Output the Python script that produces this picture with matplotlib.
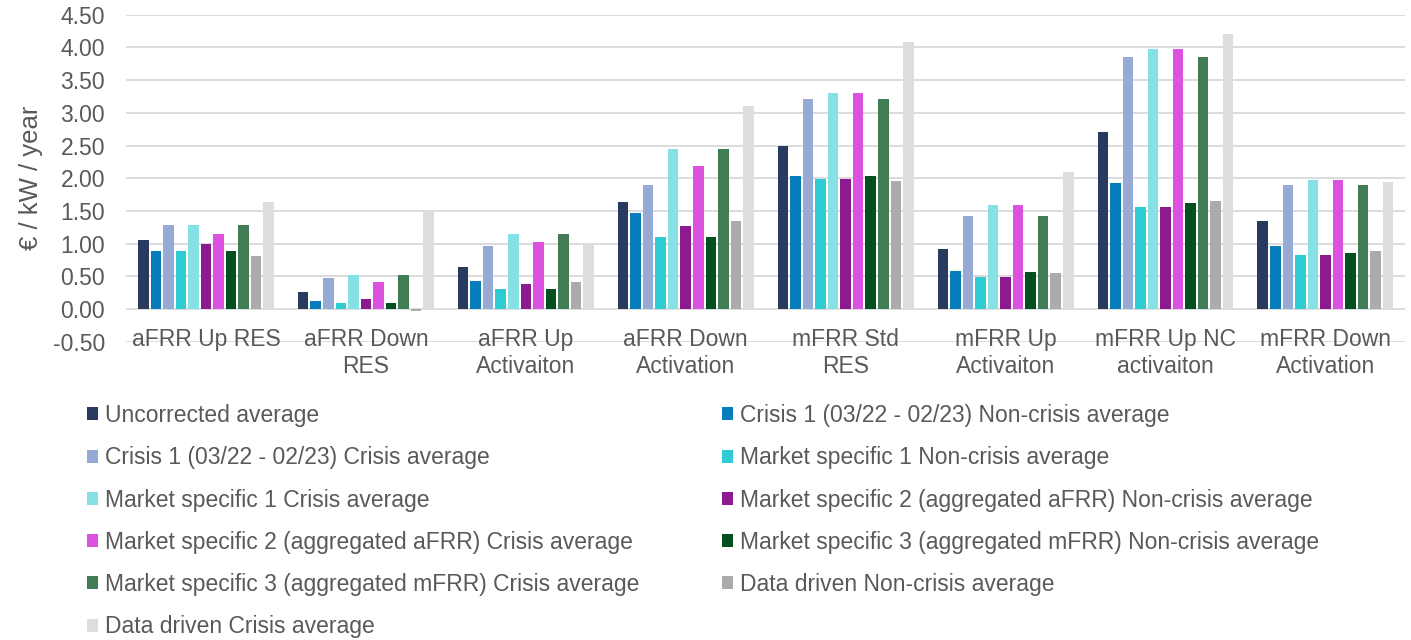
import matplotlib.pyplot as plt
import numpy as np

plt.rcParams['font.family'] = ['Liberation Sans', 'DejaVu Sans']

categories = ['aFRR Up RES', 'aFRR Down\nRES', 'aFRR Up\nActivaiton', 'aFRR Down\nActivation',
              'mFRR Std\nRES', 'mFRR Up\nActivaiton', 'mFRR Up NC\nactivaiton', 'mFRR Down\nActivation']

series_names = [
    'Uncorrected average',
    'Crisis 1 (03/22 - 02/23) Non-crisis average',
    'Crisis 1 (03/22 - 02/23) Crisis average',
    'Market specific 1 Non-crisis average',
    'Market specific 1 Crisis average',
    'Market specific 2 (aggregated aFRR) Non-crisis average',
    'Market specific 2 (aggregated aFRR) Crisis average',
    'Market specific 3 (aggregated mFRR) Non-crisis average',
    'Market specific 3 (aggregated mFRR) Crisis average',
    'Data driven Non-crisis average',
    'Data driven Crisis average',
]

uncorrected = [1.06, 0.26, 0.64, 1.64, 2.50, 0.92, 2.71, 1.34]
crisis1_non = [0.89, 0.12, 0.43, 1.47, 2.04, 0.58, 1.93, 0.96]
crisis1_crisis = [1.29, 0.48, 0.96, 1.89, 3.21, 1.42, 3.86, 1.89]
ms1_non = [0.89, 0.09, 0.30, 1.10, 1.99, 0.49, 1.56, 0.83]
ms1_crisis = [1.29, 0.52, 1.15, 2.44, 3.30, 1.59, 3.97, 1.97]
ms2_non = [0.99, 0.16, 0.39, 1.27, 1.99, 0.49, 1.56, 0.83]
ms2_crisis = [1.14, 0.41, 1.02, 2.19, 3.30, 1.59, 3.97, 1.97]
ms3_non = [0.89, 0.09, 0.30, 1.10, 2.04, 0.57, 1.62, 0.86]
ms3_crisis = [1.29, 0.52, 1.15, 2.44, 3.21, 1.42, 3.86, 1.89]
dd_non = [0.81, -0.03, 0.41, 1.35, 1.96, 0.55, 1.65, 0.89]
dd_crisis = [1.63, 1.49, 0.99, 3.11, 4.08, 2.10, 4.20, 1.94]

all_series = [uncorrected, crisis1_non, crisis1_crisis, ms1_non, ms1_crisis,
              ms2_non, ms2_crisis, ms3_non, ms3_crisis, dd_non, dd_crisis]

colors = ['#283A5E', '#077DBB', '#95ABD5', '#2ECBD3', '#84E1E6',
          '#8E1A92', '#DA52DF', '#03501E', '#417C55', '#ABABAB', '#DDDDDD']

text_color = '#595959'
fs = 16.5

fig = plt.figure(figsize=(14.11, 6.4), dpi=100)
ax = fig.add_axes([0.0893, 0.466, 0.9067, 0.511])

x = np.arange(len(categories))
pitch = 0.0784
width = 0.066
handles = []
for j, (vals, col, name) in enumerate(zip(all_series, colors, series_names)):
    b = ax.bar(x + (j - 5) * pitch, vals, width, color=col, label=name, zorder=3)
    handles.append(b)

ax.set_xlim(-0.5, 7.5)
ax.set_ylim(-0.5, 4.5)
ax.set_yticks(np.arange(-0.5, 4.51, 0.5))
ax.set_yticklabels([f'{v:.2f}' for v in np.arange(-0.5, 4.51, 0.5)])
ax.grid(axis='y', color='#D9D9D9', lw=1.3, zorder=0)
for s in ax.spines.values():
    s.set_visible(False)
ax.tick_params(axis='y', length=0, pad=15, labelsize=fs, labelcolor=text_color)
ax.set_xticks([])
ax.set_ylabel('€ / kW / year', fontsize=18.5, color=text_color, labelpad=7)

# category labels sit on top of the lowest gridline, like in the original
for i, c in enumerate(categories):
    ax.text(i, -0.285, c, ha='center', va='top', fontsize=fs, color=text_color,
            linespacing=1.26, zorder=4)

# legend is filled row by row in the original
order = [0, 2, 4, 6, 8, 10, 1, 3, 5, 7, 9]
leg = fig.legend([handles[k] for k in order], [series_names[k] for k in order],
                 ncol=2, loc='upper left', bbox_to_anchor=(0.055, 0.383),
                 frameon=False, fontsize=fs, handlelength=0.5, handleheight=0.5,
                 handletextpad=0.3, columnspacing=3.6, labelspacing=0.84,
                 borderaxespad=0)
for t in leg.get_texts():
    t.set_color(text_color)

fig.savefig('out.png', dpi=100)
